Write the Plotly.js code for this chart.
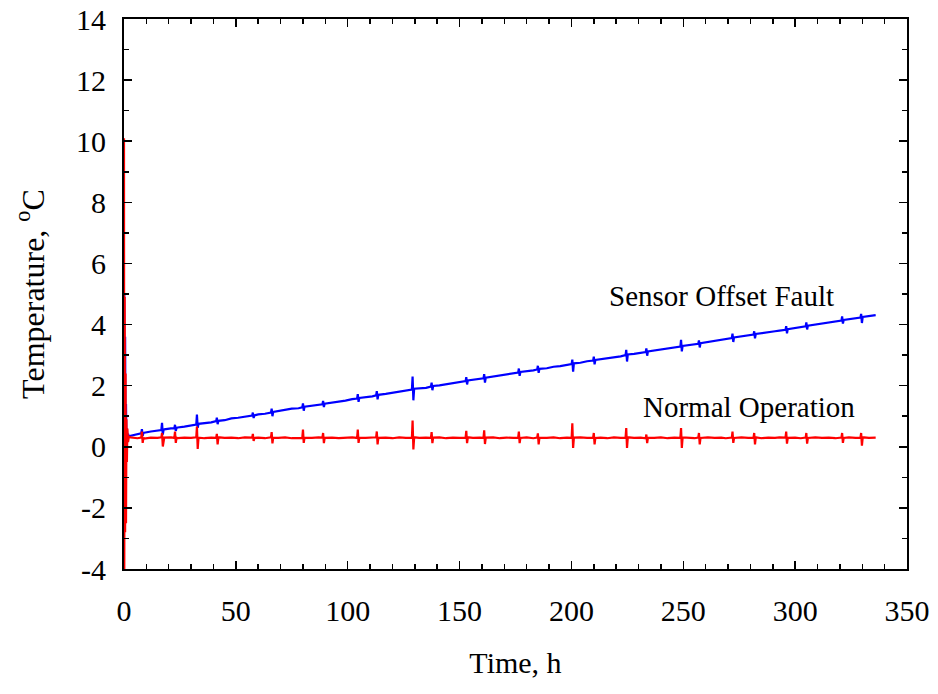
<!DOCTYPE html>
<html>
<head>
<meta charset="utf-8">
<script src="https://cdn.plot.ly/plotly-3.0.1.min.js"></script>
<style>html,body{margin:0;padding:0;background:#fff;}#chart{width:938px;height:694px;}</style>
</head>
<body>
<div id="chart"></div>
<script>
// Time (h)
var time = [
 0, 0.12, 0.3, 0.5, 0.7, 0.9, 1.1, 1.3, 1.5, 1.8, 2.2,
 3, 6, 7.7, 8, 8.35, 8.7, 9, 12, 15, 16.7, 17, 17.35, 17.7, 18, 21,
 22.5, 22.8, 23.15, 23.5, 24, 27, 30, 32.3, 32.6, 32.95, 33.3, 36, 39,
 41.2, 41.5, 41.85, 42.2, 45, 48, 51, 54, 57.3, 57.6, 57.95, 58.3, 60, 63,
 65.7, 66, 66.35, 66.7, 69, 72, 75, 78, 79.7, 80, 80.35, 80.7, 84, 87,
 88.7, 89, 89.35, 89.7, 93, 96, 99, 102, 104.2, 104.5, 104.85, 105.2, 108, 111,
 112.7, 113, 113.35, 113.7, 117, 120, 123, 126, 128.7, 129, 129.35, 129.7, 132, 135,
 137.2, 137.5, 137.85, 138.2, 141, 144, 147, 150, 152.7, 153, 153.35, 153.7, 156, 159,
 160.7, 161, 161.35, 161.7, 165, 168, 171, 174, 176.2, 176.5, 176.85, 177.2, 180, 183,
 184.7, 185, 185.35, 185.7, 189, 192, 195, 198, 200.1, 200.4, 200.75, 201.1, 204, 207,
 209.7, 210, 210.35, 210.7, 213, 216, 219, 222, 224.2, 224.5, 224.85, 225.2, 228, 231,
 233.2, 233.5, 233.85, 234.2, 237, 240, 243, 246, 248.7, 249, 249.35, 249.7, 252, 255,
 256.7, 257, 257.35, 257.7, 261, 264, 267, 269, 271.7, 272, 272.35, 272.7, 276, 279,
 281.4, 281.7, 282.05, 282.4, 285, 288, 291, 293, 295.7, 296, 296.35, 296.7, 300, 302.5,
 304.7, 305, 305.35, 305.7, 309, 312, 315, 318, 320.7, 321, 321.35, 321.7, 324, 327,
 329.2, 329.5, 329.85, 330.2, 333, 336
];
// Normal Operation (red), °C
var normalTemp = [
 10.1, -4.6, 4.9, -2.8, 2.4, -2.5, 0.9, -0.5, 0.6, 0.15, 0.33,
 0.31, 0.28, 0.30, 0.50, 0.13, 0.30, 0.27, 0.30, 0.29, 0.31, 0.45, 0.01, 0.28, 0.30, 0.31,
 0.29, 0.50, 0.13, 0.30, 0.28, 0.30, 0.29, 0.31, 0.66, -0.07, 0.30, 0.28, 0.30,
 0.29, 0.42, 0.08, 0.31, 0.29, 0.30, 0.28, 0.31, 0.30, 0.42, 0.19, 0.29, 0.30, 0.28,
 0.31, 0.48, 0.11, 0.30, 0.29, 0.31, 0.28, 0.30, 0.29, 0.56, 0.13, 0.30, 0.29, 0.31,
 0.30, 0.45, 0.12, 0.29, 0.30, 0.28, 0.30, 0.31, 0.29, 0.56, 0.13, 0.30, 0.29, 0.30,
 0.31, 0.50, 0.08, 0.29, 0.30, 0.28, 0.31, 0.29, 0.30, 0.86, -0.09, 0.31, 0.29, 0.30,
 0.29, 0.48, 0.12, 0.30, 0.31, 0.28, 0.30, 0.29, 0.30, 0.52, 0.12, 0.31, 0.29, 0.30,
 0.29, 0.54, 0.09, 0.30, 0.31, 0.28, 0.30, 0.29, 0.30, 0.50, 0.12, 0.29, 0.31, 0.28,
 0.30, 0.44, 0.08, 0.30, 0.29, 0.31, 0.28, 0.30, 0.29, 0.77, -0.04, 0.30, 0.31, 0.29,
 0.30, 0.45, 0.08, 0.29, 0.30, 0.28, 0.31, 0.29, 0.30, 0.61, -0.04, 0.31, 0.29, 0.30,
 0.28, 0.40, 0.12, 0.30, 0.29, 0.31, 0.28, 0.30, 0.29, 0.61, -0.04, 0.31, 0.30, 0.28,
 0.30, 0.45, 0.08, 0.29, 0.31, 0.29, 0.30, 0.28, 0.30, 0.50, 0.13, 0.29, 0.31, 0.29,
 0.30, 0.45, 0.08, 0.31, 0.28, 0.30, 0.29, 0.31, 0.30, 0.50, 0.10, 0.29, 0.30, 0.28,
 0.30, 0.45, 0.10, 0.29, 0.31, 0.29, 0.30, 0.28, 0.30, 0.45, 0.13, 0.29, 0.31, 0.29,
 0.30, 0.45, 0.04, 0.31, 0.29, 0.30
];
// Sensor Offset Fault (blue), °C
var faultTemp = [
 1.0, 5.0, -1.2, 3.6, -0.6, 1.4, 0.1, 0.6, 0.25, 0.42, 0.33,
 0.36, 0.40, 0.44, 0.58, 0.36, 0.45, 0.46, 0.50, 0.52, 0.55, 0.78, 0.40, 0.56, 0.57, 0.60,
 0.61, 0.72, 0.52, 0.62, 0.63, 0.66, 0.71, 0.73, 1.05, 0.62, 0.75, 0.77, 0.80,
 0.84, 0.95, 0.74, 0.85, 0.87, 0.93, 0.95, 0.98, 1.02, 1.12, 0.94, 1.03, 1.06, 1.08,
 1.12, 1.25, 1.00, 1.14, 1.17, 1.19, 1.25, 1.26, 1.29, 1.42, 1.18, 1.31, 1.35, 1.37,
 1.39, 1.50, 1.30, 1.41, 1.44, 1.49, 1.51, 1.56, 1.58, 1.72, 1.47, 1.60, 1.62, 1.65,
 1.68, 1.82, 1.55, 1.70, 1.73, 1.76, 1.81, 1.83, 1.87, 2.30, 1.52, 1.90, 1.91, 1.93,
 1.97, 2.10, 1.85, 1.99, 2.01, 2.05, 2.09, 2.11, 2.15, 2.28, 2.04, 2.17, 2.19, 2.22,
 2.24, 2.38, 2.10, 2.26, 2.30, 2.34, 2.36, 2.41, 2.43, 2.56, 2.32, 2.45, 2.47, 2.50,
 2.53, 2.65, 2.42, 2.55, 2.57, 2.62, 2.64, 2.69, 2.71, 2.85, 2.46, 2.73, 2.75, 2.80,
 2.82, 2.95, 2.70, 2.84, 2.86, 2.91, 2.93, 2.96, 3.00, 3.17, 2.79, 3.02, 3.04, 3.07,
 3.10, 3.22, 2.98, 3.12, 3.15, 3.18, 3.22, 3.25, 3.28, 3.50, 3.12, 3.30, 3.32, 3.35,
 3.37, 3.48, 3.25, 3.39, 3.43, 3.46, 3.51, 3.53, 3.56, 3.70, 3.43, 3.58, 3.61, 3.64,
 3.67, 3.78, 3.55, 3.69, 3.71, 3.75, 3.78, 3.80, 3.83, 3.95, 3.71, 3.85, 3.89, 3.92,
 3.94, 4.07, 3.84, 3.96, 4.00, 4.03, 4.07, 4.10, 4.13, 4.27, 4.03, 4.15, 4.17, 4.21,
 4.23, 4.35, 4.05, 4.25, 4.28, 4.31
];
var seriesLabels = ["Sensor Offset Fault", "Normal Operation"];
var labelX = [267, 279.5];
var labelY = [4.94, 1.31];
var xTickVals = [0, 50, 100, 150, 200, 250, 300, 350];
var xTickText = ["0", "50", "100", "150", "200", "250", "300", "350"];
var yTickVals = [-4, -2, 0, 2, 4, 6, 8, 10, 12, 14];
var yTickText = ["-4", "-2", "0", "2", "4", "6", "8", "10", "12", "14"];

var serif = "Liberation Serif, Times New Roman, serif";

var traces = [
  {x: time, y: faultTemp, type: 'scatter', mode: 'lines', name: seriesLabels[0],
   line: {color: '#0000ff', width: 2.2}},
  {x: time, y: normalTemp, type: 'scatter', mode: 'lines', name: seriesLabels[1],
   line: {color: '#ff0000', width: 2.2}}
];

var annotations = seriesLabels.map(function (t, i) {
  return {x: labelX[i], y: labelY[i], xref: 'x', yref: 'y', text: t, showarrow: false,
          font: {family: serif, size: 29, color: '#000'}, xanchor: 'center', yanchor: 'middle'};
});

var axisCommon = {
  showline: true, linewidth: 2, linecolor: '#000', mirror: 'ticks',
  ticks: 'inside', ticklen: 8, tickwidth: 1.5, tickcolor: '#000',
  showgrid: false, zeroline: false, tickmode: 'array',
  tickfont: {family: serif, size: 30, color: '#000'}
};

var layout = {
  width: 938, height: 694,
  margin: {l: 124, r: 31, t: 19, b: 125},
  paper_bgcolor: '#fff', plot_bgcolor: '#fff',
  showlegend: false,
  font: {family: serif, color: '#000', size: 30},
  xaxis: Object.assign({}, axisCommon, {
    range: [0, 350], tickvals: xTickVals, ticktext: xTickText, ticklabelstandoff: 14,
    minor: {dtick: 10, tick0: 0, ticks: 'inside', ticklen: 5, tickwidth: 1.5, tickcolor: '#000'},
    title: {text: 'Time, h', font: {family: serif, size: 30, color: '#000'}, standoff: 26}
  }),
  yaxis: Object.assign({}, axisCommon, {
    range: [-4, 14], tickvals: yTickVals, ticktext: yTickText, ticklabelstandoff: 10,
    minor: {dtick: 1, tick0: 0, ticks: 'inside', ticklen: 5, tickwidth: 1.5, tickcolor: '#000'},
    title: {text: 'Temperature, <sup>o</sup>C', font: {family: serif, size: 32, color: '#000'}, standoff: 22}
  }),
  annotations: annotations
};

Plotly.newPlot('chart', traces, layout, {displayModeBar: false, staticPlot: true});
</script>
</body>
</html>
